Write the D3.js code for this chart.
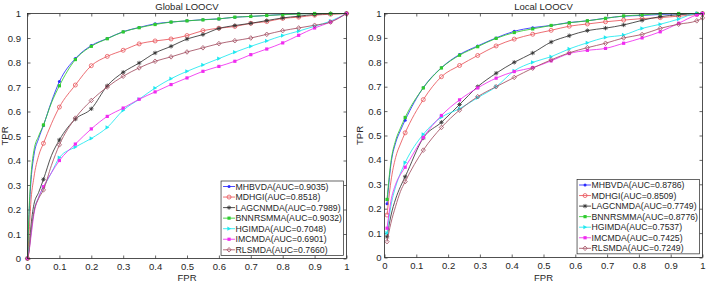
<!DOCTYPE html>
<html>
<head>
<meta charset="utf-8">
<script src="https://cdn.jsdelivr.net/npm/d3@7"></script>
<style>
  body { margin: 0; background: #fff; }
  text { font-family: "Liberation Sans", Arial, sans-serif; fill: #262626; }
</style>
</head>
<body>
<script>
// method names and AUC values from the legends
var methods = ["MHBVDA", "MDHGI", "LAGCNMDA", "BNNRSMMA", "HGIMDA", "IMCMDA", "RLSMDA"]
var globalAuc = ["0.9035", "0.8518", "0.7989", "0.9032", "0.7048", "0.6901", "0.7660"]
var localAuc = ["0.8786", "0.8509", "0.7749", "0.8776", "0.7537", "0.7425", "0.7249"]

var colors = ["#2b2bff", "#e8545a", "#333333", "#2ecc2e", "#1ee8f0", "#f02cf0", "#a34f62"]
var markers = ["dot", "circle", "star", "square", "triangle", "square", "diamond"]

var ticks = [0, 0.1, 0.2, 0.3, 0.4, 0.5, 0.6, 0.7, 0.8, 0.9, 1]

// Global LOOCV: fpr grid, markers every 0.05
var globalFpr = [0, 0.005, 0.01, 0.02, 0.035, 0.05, 0.075, 0.1, 0.15, 0.2, 0.25, 0.3, 0.35, 0.4,
  0.45, 0.5, 0.55, 0.6, 0.65, 0.7, 0.75, 0.8, 0.85, 0.9, 0.95, 1]
var globalTpr = [
  [0, 0.18, 0.30, 0.42, 0.49, 0.543, 0.64, 0.722, 0.816, 0.869, 0.898, 0.926, 0.943, 0.958, 0.965, 0.970, 0.975, 0.978, 0.985, 0.988, 0.992, 0.996, 0.999, 1, 1, 1],
  [0, 0.10, 0.22, 0.33, 0.42, 0.47, 0.55, 0.618, 0.708, 0.787, 0.825, 0.850, 0.876, 0.888, 0.896, 0.910, 0.930, 0.940, 0.947, 0.960, 0.967, 0.980, 0.985, 0.993, 0.997, 1],
  [0, 0.04, 0.12, 0.22, 0.27, 0.323, 0.42, 0.484, 0.569, 0.611, 0.705, 0.760, 0.798, 0.839, 0.866, 0.896, 0.914, 0.939, 0.951, 0.960, 0.971, 0.982, 0.989, 0.996, 0.999, 1],
  [0, 0.20, 0.32, 0.44, 0.50, 0.545, 0.635, 0.705, 0.812, 0.866, 0.897, 0.925, 0.942, 0.955, 0.965, 0.970, 0.974, 0.978, 0.985, 0.988, 0.992, 0.995, 0.998, 1, 1, 1],
  [0, 0.04, 0.09, 0.19, 0.25, 0.29, 0.35, 0.412, 0.455, 0.49, 0.535, 0.605, 0.650, 0.696, 0.734, 0.764, 0.790, 0.816, 0.842, 0.866, 0.888, 0.910, 0.928, 0.948, 0.969, 1],
  [0, 0.03, 0.08, 0.18, 0.25, 0.293, 0.35, 0.40, 0.467, 0.529, 0.580, 0.614, 0.650, 0.680, 0.710, 0.737, 0.764, 0.784, 0.805, 0.832, 0.855, 0.880, 0.911, 0.941, 0.965, 1],
  [0, 0.03, 0.10, 0.19, 0.245, 0.28, 0.38, 0.464, 0.573, 0.645, 0.700, 0.744, 0.778, 0.805, 0.823, 0.843, 0.860, 0.877, 0.889, 0.900, 0.915, 0.930, 0.941, 0.952, 0.965, 1]
]
var globalMarkIdx = [0, 5, 7, 8, 9, 10, 11, 12, 13, 14, 15, 16, 17, 18, 19, 20, 21, 22, 23, 24, 25]

// Local LOOCV: curves start near fpr 0.008
var localFpr = [0.008, 0.02, 0.035, 0.05, 0.065, 0.122, 0.179, 0.236, 0.293, 0.351, 0.408, 0.466,
  0.524, 0.581, 0.638, 0.695, 0.752, 0.81, 0.867, 0.925, 0.982, 1]
var localTpr = [
  [0.22, 0.38, 0.47, 0.52, 0.563, 0.696, 0.778, 0.832, 0.867, 0.900, 0.927, 0.942, 0.951, 0.963, 0.970, 0.981, 0.989, 0.992, 0.996, 0.999, 1, 1],
  [0.174, 0.31, 0.41, 0.465, 0.511, 0.647, 0.741, 0.787, 0.828, 0.867, 0.895, 0.915, 0.931, 0.948, 0.957, 0.966, 0.973, 0.979, 0.983, 0.989, 0.996, 1],
  [0.085, 0.17, 0.24, 0.29, 0.331, 0.49, 0.554, 0.627, 0.700, 0.755, 0.800, 0.838, 0.883, 0.909, 0.930, 0.940, 0.953, 0.972, 0.987, 0.995, 0.999, 1],
  [0.238, 0.39, 0.48, 0.53, 0.574, 0.695, 0.777, 0.829, 0.864, 0.898, 0.922, 0.937, 0.951, 0.962, 0.970, 0.980, 0.990, 0.994, 0.999, 1, 1, 1],
  [0.10, 0.21, 0.29, 0.345, 0.389, 0.505, 0.575, 0.610, 0.655, 0.700, 0.765, 0.800, 0.823, 0.855, 0.880, 0.902, 0.912, 0.939, 0.956, 0.977, 1, 1],
  [0.12, 0.23, 0.30, 0.34, 0.37, 0.492, 0.582, 0.646, 0.695, 0.735, 0.762, 0.778, 0.806, 0.836, 0.849, 0.857, 0.878, 0.900, 0.925, 0.960, 0.994, 1],
  [0.065, 0.14, 0.21, 0.27, 0.311, 0.44, 0.533, 0.604, 0.659, 0.700, 0.738, 0.776, 0.810, 0.839, 0.860, 0.878, 0.900, 0.914, 0.939, 0.956, 0.970, 0.982]
]
var localMarkIdx = [0, 4, 5, 6, 7, 8, 9, 10, 11, 12, 13, 14, 15, 16, 17, 18, 19, 20, 21]

var svg = d3.select("body").append("svg")
    .attr("width", 708)
    .attr("height", 284)

function drawMarker(g, type, color, cx, cy){
  if (type == "dot") {
    g.append("circle").attr("cx", cx).attr("cy", cy).attr("r", 1.5).attr("fill", color)
  } else if (type == "circle") {
    g.append("circle").attr("cx", cx).attr("cy", cy).attr("r", 2)
      .attr("fill", "none").attr("stroke", color).attr("stroke-width", 0.8)
  } else if (type == "star") {
    var s = 2.2
    g.append("path")
      .attr("d", "M" + (cx - s) + "," + cy + "h" + (2 * s) + "M" + cx + "," + (cy - s) + "v" + (2 * s) +
        "M" + (cx - s * 0.7) + "," + (cy - s * 0.7) + "l" + (1.4 * s) + "," + (1.4 * s) +
        "M" + (cx - s * 0.7) + "," + (cy + s * 0.7) + "l" + (1.4 * s) + "," + (-1.4 * s))
      .attr("stroke", color).attr("stroke-width", 0.8)
  } else if (type == "square") {
    g.append("rect").attr("x", cx - 1.6).attr("y", cy - 1.6).attr("width", 3.2).attr("height", 3.2)
      .attr("fill", color)
  } else if (type == "triangle") {
    g.append("path")
      .attr("d", "M" + (cx + 2.1) + "," + cy + "L" + (cx - 1.7) + "," + (cy - 2.1) + "L" + (cx - 1.7) + "," + (cy + 2.1) + "Z")
      .attr("fill", color)
  } else if (type == "diamond") {
    g.append("path")
      .attr("d", "M" + cx + "," + (cy - 2.3) + "L" + (cx + 2.1) + "," + cy + "L" + cx + "," + (cy + 2.3) + "L" + (cx - 2.1) + "," + cy + "Z")
      .attr("fill", "none").attr("stroke", color).attr("stroke-width", 0.8)
  }
}

function drawPanel(p){
  var x = d3.scaleLinear().domain([0, 1]).range([p.left, p.right])
  var y = d3.scaleLinear().domain([0, 1]).range([p.bottom, p.top])
  var g = svg.append("g")

  var fmt = function(d){ return String(d) }

  g.append("g")
      .attr("transform", "translate(0," + p.bottom + ")")
      .call(d3.axisBottom(x).tickValues(ticks).tickFormat(fmt).tickSizeInner(-3).tickSizeOuter(0).tickPadding(5))
  g.append("g")
      .attr("transform", "translate(" + p.left + ",0)")
      .call(d3.axisLeft(y).tickValues(ticks).tickFormat(fmt).tickSizeInner(-3).tickSizeOuter(0).tickPadding(p.yPad))
  g.append("g")
      .attr("transform", "translate(0," + p.top + ")")
      .call(d3.axisTop(x).tickValues(ticks).tickFormat("").tickSizeInner(-3).tickSizeOuter(0))
  g.append("g")
      .attr("transform", "translate(" + p.right + ",0)")
      .call(d3.axisRight(y).tickValues(ticks).tickFormat("").tickSizeInner(-3).tickSizeOuter(0))

  g.selectAll(".domain").remove()
  g.selectAll(".tick line").attr("stroke", "#262626").attr("stroke-width", 0.7)
  g.selectAll(".tick text").attr("font-size", "9.5px").attr("fill", "#262626")
      .style("font-family", "Liberation Sans, Arial, sans-serif")

  var line = d3.line()
      .x(function(d){ return x(d[0]) })
      .y(function(d){ return y(d[1]) })
      .curve(d3.curveMonotoneX)

  p.tpr.forEach(function(vals, i){
    var pts = p.fpr.map(function(f, j){ return [f, vals[j]] })
    g.append("path")
      .datum(pts)
      .attr("d", line)
      .attr("fill", "none")
      .attr("stroke", colors[i])
      .attr("stroke-width", 0.85)
    var mg = g.append("g")
    p.markIdx.forEach(function(j){
      drawMarker(mg, markers[i], colors[i], x(pts[j][0]), y(pts[j][1]))
    })
  })

  // axes box
  g.append("rect")
    .attr("x", p.left).attr("y", p.top)
    .attr("width", p.right - p.left).attr("height", p.bottom - p.top)
    .attr("fill", "none").attr("stroke", "#262626").attr("stroke-width", 0.8)

  g.append("text")
    .attr("x", (p.left + p.right) / 2).attr("y", p.top - 4)
    .attr("text-anchor", "middle").attr("font-size", "9.5px")
    .text(p.title)

  g.append("text")
    .attr("x", (p.left + p.right) / 2).attr("y", 281)
    .attr("text-anchor", "middle").attr("font-size", "9.5px")
    .text("FPR")

  g.append("text")
    .attr("transform", "translate(" + p.yLabelX + "," + ((p.top + p.bottom) / 2) + ") rotate(-90)")
    .attr("text-anchor", "middle").attr("font-size", "9.5px")
    .text("TPR")

  // legend
  var rowH = 10.55
  var lg = g.append("g")
  var box = lg.append("rect").attr("fill", "#fff").attr("stroke", "#262626").attr("stroke-width", 0.7)
  var maxW = 0
  methods.forEach(function(m, i){
    var ig = lg.append("g").attr("transform", "translate(0," + (p.legendTop + 5.5 + i * rowH) + ")")
    var t = ig.append("text")
      .attr("x", 14.5).attr("y", 0).attr("dy", "0.35em")
      .attr("font-size", "8.7px")
      .text(m + "(AUC=" + p.auc[i] + ")")
    maxW = Math.max(maxW, t.node().getComputedTextLength())
    ig.append("line").attr("x1", 2).attr("x2", 14).attr("y1", 0).attr("y2", 0)
      .attr("stroke", colors[i]).attr("stroke-width", 0.85)
    drawMarker(ig, markers[i], colors[i], 8, 0)
  })
  var boxW = maxW + 16
  var boxLeft = p.right - 3 - boxW
  lg.attr("transform", "translate(" + boxLeft + ",0)")
  box.attr("x", 0).attr("y", p.legendTop).attr("width", boxW).attr("height", methods.length * rowH + 0.5)
}

drawPanel({
  left: 27.5, right: 346.5, top: 13.5, bottom: 258.5, yPad: 6.5, yLabelX: 8.3,
  title: "Global LOOCV", fpr: globalFpr, tpr: globalTpr, auc: globalAuc,
  markIdx: globalMarkIdx, legendTop: 181
})

drawPanel({
  left: 384.5, right: 702.5, top: 13.5, bottom: 257.5, yPad: 3, yLabelX: 362.5,
  title: "Local LOOCV", fpr: localFpr, tpr: localTpr, auc: localAuc,
  markIdx: localMarkIdx, legendTop: 179.5
})
</script>
</body>
</html>
